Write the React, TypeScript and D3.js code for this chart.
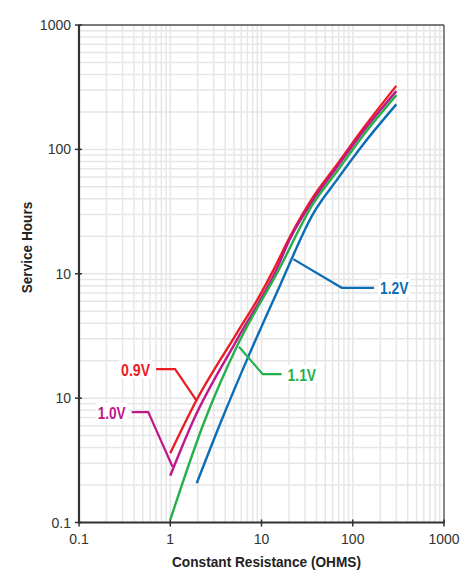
import React from "react";
import * as d3 from "d3";

const xTicks = [0.1, 1, 10, 100, 1000];
const xTickLabels = ["0.1", "1", "10", "100", "1000"];
const yTicks = [0.1, 1, 10, 100, 1000];
const yTickLabels = ["0.1", "10", "10", "100", "1000"];

const r09 = [1, 1.95, 5.35, 9.6, 13.5, 20.5, 37, 66.7, 130.6, 300];
const h09 = [0.36, 0.97, 3.32, 6.7, 10.7, 19.8, 41.6, 75, 148, 324];

const r10 = [1, 1.8, 5.35, 14.6, 20.5, 37, 66.7, 130.6, 300];
const h10 = [0.238, 0.667, 2.93, 10.8, 19, 39.3, 71.5, 140, 294];

const r11 = [1, 2.4, 5.35, 15.4, 37, 66.7, 130.6, 300];
const h11 = [0.105, 0.667, 2.59, 10.7, 36.8, 66, 130, 273];

const r12 = [1.95, 3.66, 6.9, 16, 37, 66.7, 130.6, 300];
const h12 = [0.207, 0.667, 2.02, 8.1, 30.6, 56.6, 110, 230];

const seriesNames = ["0.9V", "1.0V", "1.1V", "1.2V"];
const seriesColors = ["#ec1c24", "#c0168c", "#25b04b", "#0b6db7"];
const seriesX = [r09, r10, r11, r12];
const seriesY = [h09, h10, h11, h12];

// leader lines in data units: from curve -> elbow -> free end
const leaderX = [
  [1.95, 1.13, 0.7],
  [1.06, 0.574, 0.378],
  [5.66, 10.3, 16.6],
  [22.3, 75.7, 171],
];
const leaderY = [
  [0.95, 1.71, 1.71],
  [0.281, 0.773, 0.773],
  [2.59, 1.56, 1.56],
  [13.1, 7.71, 7.71],
];
const labelSide = ["left", "left", "right", "right"];

const W = 471;
const H = 573;
const M = { left: 79, right: 444, top: 25, bottom: 522.5 };

export default function App() {
  const x = d3.scaleLog().domain([0.1, 1000]).range([M.left, M.right]);
  const y = d3.scaleLog().domain([0.1, 1000]).range([M.bottom, M.top]);

  const minor: number[] = [];
  for (let e = -1; e < 3; e++) {
    for (let k = 1; k <= 9; k++) minor.push(k * Math.pow(10, e));
  }
  minor.push(1000);

  const line = d3
    .line<[number, number]>()
    .x((d) => x(d[0]))
    .y((d) => y(d[1]))
    .curve(d3.curveMonotoneX);

  const font = "'Liberation Sans', Arial, sans-serif";
  const labelWidths = [29, 28, 28.5, 28.5];

  return (
    <svg
      width={W}
      height={H}
      style={{ position: "absolute", left: 0, top: 0, background: "#fff" }}
    >
      <rect x={0} y={0} width={W} height={H} fill="#fff" />
      {/* grid */}
      <g stroke="#e6e6e6" strokeWidth={1.5}>
        {minor.map((v, i) => (
          <line key={"gx" + i} x1={x(v)} x2={x(v)} y1={M.top} y2={M.bottom} />
        ))}
        {minor.map((v, i) => (
          <line key={"gy" + i} x1={M.left} x2={M.right} y1={y(v)} y2={y(v)} />
        ))}
      </g>
      {/* frame */}
      <line x1={M.left} x2={M.right} y1={M.top} y2={M.top} stroke="#555" strokeWidth={1.5} />
      <line x1={M.right} x2={M.right} y1={M.top} y2={M.bottom} stroke="#666" strokeWidth={1.5} />
      <line x1={M.left} x2={M.left} y1={M.top} y2={M.bottom} stroke="#333" strokeWidth={2.2} />
      <line x1={M.left - 1} x2={M.right + 1} y1={M.bottom} y2={M.bottom} stroke="#333" strokeWidth={2} />

      {/* ticks */}
      {xTicks.map((v, i) => (
        <g key={"xt" + i}>
          <line x1={x(v)} x2={x(v)} y1={M.bottom - 3} y2={M.bottom + 4} stroke="#333" strokeWidth={1.5} />
          <text
            x={x(v)}
            y={M.bottom + 21.5}
            textAnchor="middle"
            fontFamily={font}
            fontSize={14}
            fill="#333"
          >
            {xTickLabels[i]}
          </text>
        </g>
      ))}
      {yTicks.map((v, i) => (
        <g key={"yt" + i}>
          <line x1={M.left - 4} x2={M.left + 3} y1={y(v)} y2={y(v)} stroke="#333" strokeWidth={1.5} />
          <text
            x={M.left - 8}
            y={y(v) + 5}
            textAnchor="end"
            fontFamily={font}
            fontSize={14}
            fill="#333"
          >
            {yTickLabels[i]}
          </text>
        </g>
      ))}

      {/* series */}
      {seriesNames.map((name, i) => {
        const pts = seriesX[i].map((v, j) => [v, seriesY[i][j]] as [number, number]);
        return (
          <path
            key={name}
            d={line(pts) || ""}
            fill="none"
            stroke={seriesColors[i]}
            strokeWidth={2.4}
            strokeLinejoin="round"
          />
        );
      })}

      {/* annotations */}
      {seriesNames.map((name, i) => {
        const px = leaderX[i].map((v) => x(v));
        const py = leaderY[i].map((v) => y(v));
        const endX = px[2];
        const endY = py[2];
        const left = labelSide[i] === "left";
        const tw = labelWidths[i];
        const tx = left ? endX - 6 - tw : endX + 6;
        return (
          <g key={"a" + name}>
            <rect x={tx - 2} y={endY - 9} width={tw + 4} height={18} fill="#fff" />
            <polyline
              points={px.map((p, j) => `${p},${py[j]}`).join(" ")}
              fill="none"
              stroke={seriesColors[i]}
              strokeWidth={2.2}
            />
            <text
              x={tx}
              y={endY + 6.5}
              fontFamily={font}
              fontWeight="bold"
              fontSize={16.5}
              fill={seriesColors[i]}
              textLength={tw}
              lengthAdjust="spacingAndGlyphs"
            >
              {name}
            </text>
          </g>
        );
      })}

      {/* axis titles */}
      <text
        x={(M.left + M.right) / 2 + 5}
        y={567}
        textAnchor="middle"
        fontFamily={font}
        fontWeight="bold"
        fontSize={15}
        fill="#222"
        textLength={189}
        lengthAdjust="spacingAndGlyphs"
      >
        Constant Resistance (OHMS)
      </text>
      <text
        transform={`translate(32,247.5) rotate(-90)`}
        textAnchor="middle"
        fontFamily={font}
        fontWeight="bold"
        fontSize={15}
        fill="#222"
        textLength={91.6}
        lengthAdjust="spacingAndGlyphs"
      >
        Service Hours
      </text>
    </svg>
  );
}
